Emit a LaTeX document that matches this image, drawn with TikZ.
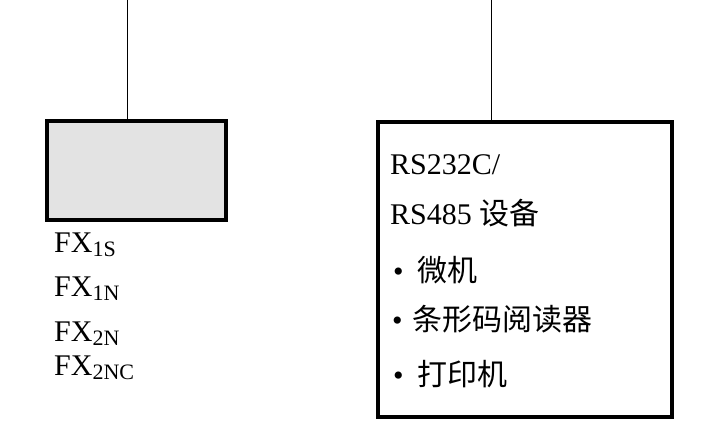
\documentclass[tikz,border=0pt]{standalone}
\usepackage{fontspec}
\setmainfont{Liberation Serif}
\newfontfamily\cjk{Noto Sans CJK SC}
\usetikzlibrary{positioning}
\definecolor{PLCGray}{HTML}{E3E3E3}
\newcommand{\fxsub}[1]{FX\raisebox{-4pt}{\fontsize{22}{22}\selectfont #1}}
\newcommand{\itembul}[1]{\makebox[#1][l]{•}}

\begin{document}
\begin{tikzpicture}[x=1pt, y=-1pt,
  unit/.style={rectangle, draw=black, line width=4pt, inner sep=0pt},
  txt/.style={anchor=base west, inner sep=0pt, font=\fontsize{30}{36}\selectfont},
  line/.style={line width=0.8pt, color=black}
]
\useasboundingbox (0,0) rectangle (708,428);

\node[unit, fill=PLCGray, minimum width=179pt, minimum height=99pt] (plc) at (136.5,170.5) {};
\node[unit, fill=white, minimum width=294pt, minimum height=295pt] (dev) at (525,269.5) {};

\coordinate (plctop) at (127,0);
\coordinate (devtop) at (491,0);
\draw[line] (plctop) -- (plctop |- plc.north);
\draw[line] (devtop) -- (devtop |- dev.north);

% PLC models
\node[txt] (fx1s)  at (54,252) {\fxsub{1S}};
\node[txt] (fx1n)  at (54,296) {\fxsub{1N}};
\node[txt] (fx2n)  at (54,341) {\fxsub{2N}};
\node[txt] (fx2nc) at (54,375) {\fxsub{2NC}};

% serial devices
\node[txt] (rs232) at (390,174) {RS232C/};
\node[txt] (rs485) at (390,224) {RS485 {\cjk 设备}};
\node[txt] (pc)    at (393,281) {\itembul{24pt}{\cjk 微机}};
\node[txt] (bcr)   at (392,330) {\itembul{20pt}{\cjk 条形码阅读器}};
\node[txt] (prn)   at (393,385) {\itembul{24pt}{\cjk 打印机}};
\end{tikzpicture}
\end{document}
